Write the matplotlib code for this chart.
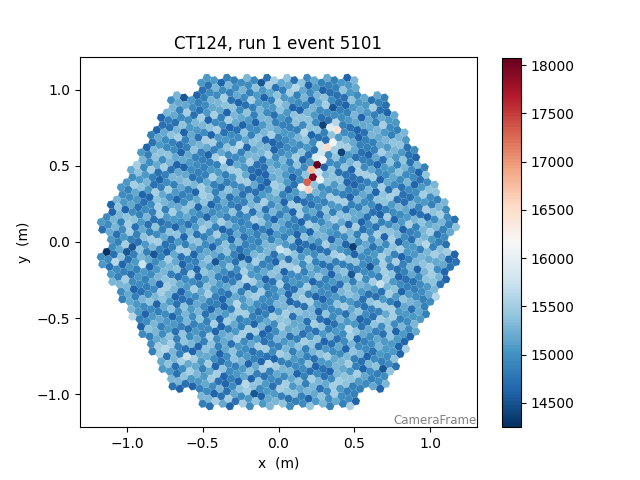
import numpy as np
import matplotlib
matplotlib.use("Agg")
import matplotlib.pyplot as plt
from matplotlib.collections import PolyCollection
from matplotlib.colors import Normalize

title = "CT124, run 1 event 5101"
frame_name = "CameraFrame"
pix_pitch = 0.05        # m, flat to flat
module_rings = 9        # 7-pixel modules, corners removed -> 265 modules
cam_rot_deg = -19.107

# per-pixel charge level, pixels ordered top->bottom, then left->right
# value = base + step * int(char, 36)
base_value = 14300
level_step = 110
level_rows = [
    "7594a68375 6b48597362 8a57496b83 5796a4c758 4697583a65",
    "58b6479368 7a5946825b 6379a48567 94b5736a48 5937b68475",
    "86a4795b37 4968a57392 7b54869a36 5849b73a67 9657384b95",
    "4a7695836b 5897a46385 63b795a478 7496835a6c 8574a96375",
    "6958b47a36 95a7486397 b4685a7395 8364a97b56 4795a8365b",
    "73a6958b47 6a59473896 5b7836a495 97458b6a37 6385a7495c",
    "9467b58a36 58a39674b5 7496a5b836 4b85967a35 8596a374b7",
    "5a8369b746 7394a85b69 6b5a487396 85d7493a65 4a69753b85",
    "7695a4b836 5847a96b35 96b35a7486 3a67958b46 7b4965a387",
    "6a4857b396 94b6a37585 5837a94b66 a6594b7383 5a4b867395",
    "8b5967a436 4796a85b37 7a35896b45 9568b4a736 6397a58b46",
    "3a8695b475 7b59a46386 5946a8b735 84a79653b6 a6385b9475",
    "9758a4b636 6a49875b35 b4697a3856 5836b9a475 7496a85b34",
    "5b6a479386 8a3596b475 6795a4b836 4a8b675395 9365a87b46",
    "7a4958b636 5b76a49385 8463a95b76 7595b4a836 4b6a978356",
    "6859a4b736 9a47586b35 5b8a396475 7469b5a836 8357a96b45",
    "4a9675b836 6b8594a375 7395a6b485 9a46857b36 5768b4a395",
    "8b5a964736 3796a5b845 6a4b857396 5b9647a835 7485a96b36",
    "9675b4a836 5a8396b475 4b7a695836 8693a5b745 6a5974b386",
    "7c46295837 69538b4a75 8a5b6947d3 4796b5a825 3b8a69c746",
    "6a79b45283 8594a6b375 7b36a95485 2a879c6b39 9648b5a735",
    "4b9a67583c 768524b395 5a6b98473d 8397a5b645 6b5a847396",
    "7a86b94525 9b4657a386 6ac7958436 5794a6b835 8a6b593746",
    "5b947a6832 6a8b579435 4796a8b536 9b5a674c35 7586b4a396",
    "8a695b4737 5b74a96385 7a8b6549d6 6495b7a835 4b6a895736",
    "9b7a564838 7a5964b385 5b8a697436 8697b4a535 6a4b785936",
    "58b6a37947 6c59a48376 9b3647a58a 7458963b67 a59673485c",
    "6947a5b386 8a6375946b 4b8596a735 73a9685b47 5698b47a36",
    "a57836947b 5b9a46875c 7368a5b496 94b7586a35 6a8493b576",
    "795b68a437 4a6975b836 8b47a69355 6359b8a746 9a7465b385",
    "5c8a694737 b6947a5386 6a58b39476 8475a6b935 479b6a3858",
    "6b795a4387 9a58647b36 5736b9a485 8a4967b535 7b5a48693c",
    "4a86b95736 7b5938a465 96a47b5836 5b8a69734d 8674a5b936",
    "9b6a537485 6a8b749356 7945a8b63c 5a7b964835 8b6395a476",
    "5a7b964832 7b86a59437 6a49b75836 9b5a738465 4a8697b536",
    "8b6a59743a 5a9b76483c 7b58a69436 6a479b5835 9a6b847536",
    "4b7a965382 7a8b594635 5a69b78436 6b4a957835 8b7a695436",
    "96a5b",
]

# bright shower track and a few outliers (x m, y m, value)
spot_x = [0.252, 0.223, 0.182, 0.215, 0.197, 0.153, 0.263, 0.292, 0.252,
          0.260, 0.285, 0.274, 0.314, 0.355, 0.391, 0.358, 0.162,
          0.417, 0.294, -1.13, 0.485, 0.400]
spot_y = [0.511, 0.426, 0.393, 0.474, 0.342, 0.353, 0.408, 0.539, 0.561,
          0.460, 0.594, 0.649, 0.627, 0.653, 0.732, 0.755, 0.717,
          0.583, 0.770, -0.06, -0.033, 0.580]
spot_val = [18073, 17950, 17300, 16750, 16600, 16000, 16000, 16050, 15900,
            15750, 15800, 15800, 16500, 16100, 16450, 15900, 15600,
            14350, 14400, 14251, 14350, 14400]

cbar_ticks = [14500, 15000, 15500, 16000, 16500, 17000, 17500, 18000]


def camera_pixels():
    a1 = np.array([1.0, 0.0]) * pix_pitch
    a2 = np.array([0.5, np.sqrt(3) / 2]) * pix_pitch
    b1 = 2 * a1 + a2
    b2 = -a1 + 3 * a2
    offsets = [np.zeros(2), a1, -a1, a2, -a2, a2 - a1, a1 - a2]
    n = module_rings
    corners = {(n, 0), (0, n), (-n, n), (-n, 0), (0, -n), (n, -n)}
    pts = []
    for i in range(-n, n + 1):
        for j in range(-n, n + 1):
            if max(abs(i), abs(j), abs(i + j)) > n or (i, j) in corners:
                continue
            c = i * b1 + j * b2
            for o in offsets:
                pts.append(c + o)
    pts = np.array(pts)
    t = np.deg2rad(cam_rot_deg)
    rot = np.array([[np.cos(t), -np.sin(t)], [np.sin(t), np.cos(t)]])
    pts = pts @ rot.T
    order = np.lexsort((pts[:, 0], -np.round(pts[:, 1], 4)))
    return pts[order]


def pixel_values(npix, pts):
    chars = "".join(level_rows).replace(" ", "")
    if len(chars) != npix:
        print("level string has {0} chars, need {1}".format(len(chars), npix))
        chars = (chars + "7" * npix)[:npix]
    vals = np.array([base_value + level_step * int(c, 36) for c in chars], float)
    for x, y, v in zip(spot_x, spot_y, spot_val):
        k = np.argmin((pts[:, 0] - x) ** 2 + (pts[:, 1] - y) ** 2)
        vals[k] = v
    return vals


pts = camera_pixels()
vals = pixel_values(len(pts), pts)

r = pix_pitch / np.sqrt(3)
ang = np.deg2rad(30 + 60 * np.arange(6) + cam_rot_deg)
hexes = [np.column_stack([x + r * np.cos(ang), y + r * np.sin(ang)]) for x, y in pts]

fig = plt.figure(figsize=(6.4, 4.8), dpi=100)
ax = fig.add_axes([80 / 640, 53 / 480, 397 / 640, 370 / 480])
cax = fig.add_axes([502 / 640, 53 / 480, 18.5 / 640, 369 / 480])

norm = Normalize(vmin=14251, vmax=18073)
coll = PolyCollection(hexes, array=vals, cmap="RdBu_r", norm=norm,
                      linewidths=0, antialiased=True)
ax.add_collection(coll)
ax.set_xlim(-1.31, 1.31)
ax.set_ylim(-1.217, 1.217)
ax.set_title(title)
ax.set_xlabel("x  (m)")
ax.set_ylabel("y  (m)")
ax.annotate(frame_name, xy=(1.0, 0.0), xycoords="axes fraction",
            ha="right", va="bottom", fontsize=8.5, color="gray")

cb = fig.colorbar(coll, cax=cax)
cb.set_ticks(cbar_ticks)

fig.savefig("out.png", dpi=100)
